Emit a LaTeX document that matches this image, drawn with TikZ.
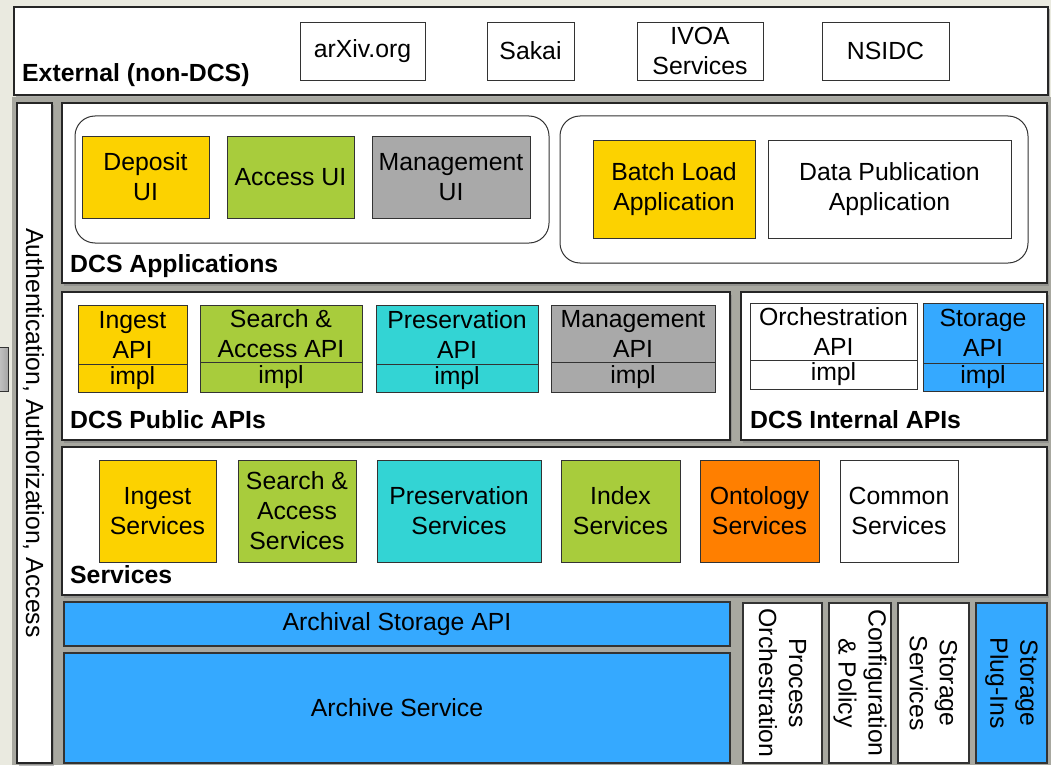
\documentclass[tikz,border=0pt]{standalone}
\usepackage{fontspec}
\setmainfont{Liberation Sans}
\usetikzlibrary{shadows}
\definecolor{bgbeige}{HTML}{EAEAE0}
\definecolor{gapgrey}{HTML}{A8A8A0}
\definecolor{cyel}{HTML}{FCD200}
\definecolor{cgrn}{HTML}{A8CC3C}
\definecolor{cgry}{HTML}{A9A9A9}
\definecolor{ccya}{HTML}{33D4D4}
\definecolor{corg}{HTML}{FF7F00}
\definecolor{cblu}{HTML}{35A9FF}
\definecolor{edge}{HTML}{333333}
\newcommand\bx[7][]{\node[box,minimum width={#5pt-#3pt},minimum height={#6pt-#4pt},#1] (#2) at ({(#3+#5)/2},{(#4+#6)/2}) {#7};}
\begin{document}
\begin{tikzpicture}[x=1pt,y=-1pt,
  box/.style={draw=edge,line width=0.9pt,inner sep=0pt,outer sep=0pt,align=center,fill=white,
    font=\fontsize{24.8}{30}\selectfont},
  panel/.style={box,line width=1.3pt,draw=black!85,drop shadow={shadow xshift=1.5pt,shadow yshift=-2.5pt,opacity=0.55}},
  grp/.style={box,rounded corners=20pt,line width=1pt},
  plabel/.style={anchor=base west,inner sep=0pt,font=\fontsize{24.8}{29}\selectfont\bfseries},
  vtext/.style={rotate=-90,align=center,inner sep=0pt,font=\fontsize{24.8}{30}\selectfont}]
\useasboundingbox (0,0) rectangle (1051,765);
\fill[bgbeige] (0,0) rectangle (1051,765);
\fill[gapgrey] (12,97) rectangle (1051,765);
% left tab
\node[draw=edge,line width=0.6pt,left color=gray!45,right color=gray!70,minimum width=10pt,minimum height=44pt,inner sep=0pt] (tab) at (3,369) {};
% External
\bx[panel]{ext}{14}{7}{1048}{95}{}
\node[plabel] (extl) at (22,82) {External (non-DCS)};
\bx{arxiv}{300}{22}{425}{80}{arXiv.org}
\bx{sakai}{487}{22}{574}{80}{Sakai}
\bx{ivoa}{637}{22}{763}{80}{IVOA\\Services}
\bx{nsidc}{822}{22}{949}{80}{NSIDC}
% Auth
\bx[panel]{auth}{17}{103}{52}{763}{}
\node[vtext] (autht) at ([xshift=-1pt]auth.center) {Authentication, Authorization, Access};
% Applications
\bx[panel]{apps}{62}{103}{1047}{283}{}
\node[plabel] (appsl) at (70,272) {DCS Applications};
\bx[grp]{grpa}{75}{116}{549}{243}{}
\bx[grp]{grpb}{560}{116}{1028}{263}{}
\bx[fill=cyel]{depui}{82}{136}{209}{218}{Deposit\\UI}
\bx[fill=cgrn]{accui}{227}{136}{354}{218}{Access UI}
\bx[fill=cgry]{mgmui}{372}{136}{530}{218}{Management\\UI}
\bx[fill=cyel]{batch}{593}{140}{755}{238}{Batch Load\\Application}
\bx{datapub}{768}{140}{1011}{238}{Data Publication\\Application}
% Public APIs
\bx[panel]{pub}{62}{292}{730}{440}{}
\node[plabel] (publ) at (70,428) {DCS Public APIs};
\bx[fill=cyel]{ingapi}{78}{305}{187}{364}{Ingest\\API}
\bx[fill=cyel]{ingimp}{78}{364}{187}{392}{impl}
\bx[fill=cgrn]{saapi}{200}{305}{362}{362}{Search \&\\Access API}
\bx[fill=cgrn]{saimp}{200}{362}{362}{392}{impl}
\bx[fill=ccya]{presapi}{376}{305}{538}{364}{Preservation\\API}
\bx[fill=ccya]{presimp}{376}{364}{538}{392}{impl}
\bx[fill=cgry]{mgmapi}{551}{305}{715}{362}{Management\\API}
\bx[fill=cgry]{mgmimp}{551}{362}{715}{392}{impl}
% Internal APIs
\bx[panel]{intl}{741}{292}{1047}{440}{}
\node[plabel] (intll) at (750,428) {DCS Internal APIs};
\bx{orchapi}{750}{303}{917}{360}{Orchestration\\API}
\bx{orchimp}{750}{360}{917}{389}{impl}
\bx[fill=cblu]{stoapi}{923}{303}{1043}{363}{Storage\\API}
\bx[fill=cblu]{stoimp}{923}{363}{1043}{391}{impl}
% Services
\bx[panel]{serv}{62}{447}{1047}{595}{}
\node[plabel] (servl) at (70,583) {Services};
\bx[fill=cyel]{ingsv}{99}{460}{216}{562}{Ingest\\Services}
\bx[fill=cgrn]{sasv}{238}{460}{356}{562}{Search \&\\Access\\Services}
\bx[fill=ccya]{pressv}{377}{460}{541}{562}{Preservation\\Services}
\bx[fill=cgrn]{idxsv}{561}{460}{680}{562}{Index\\Services}
\bx[fill=corg]{ontsv}{700}{460}{819}{562}{Ontology\\Services}
\bx{comsv}{840}{460}{958}{562}{Common\\Services}
% Storage
\bx[fill=cblu,line width=1.2pt]{asapi}{64}{602}{730}{646}{Archival Storage API}
\bx[fill=cblu,line width=1.2pt]{archsv}{64}{653}{730}{763}{Archive Service}
\bx[line width=1.2pt]{proc}{743}{603}{822}{763}{}
\node[vtext] (proct) at (proc.center) {Process\\Orchestration};
\bx[line width=1.2pt]{conf}{829}{603}{891}{763}{}
\node[vtext] (conft) at (conf.center) {Configuration\\\& Policy};
\bx[line width=1.2pt]{stsv}{898}{603}{969}{763}{}
\node[vtext] (stsvt) at (stsv.center) {Storage\\Services};
\bx[fill=cblu,line width=1.2pt]{plug}{976}{603}{1047}{763}{}
\node[vtext] (plugt) at (plug.center) {Storage\\Plug-Ins};
\end{tikzpicture}
\end{document}
